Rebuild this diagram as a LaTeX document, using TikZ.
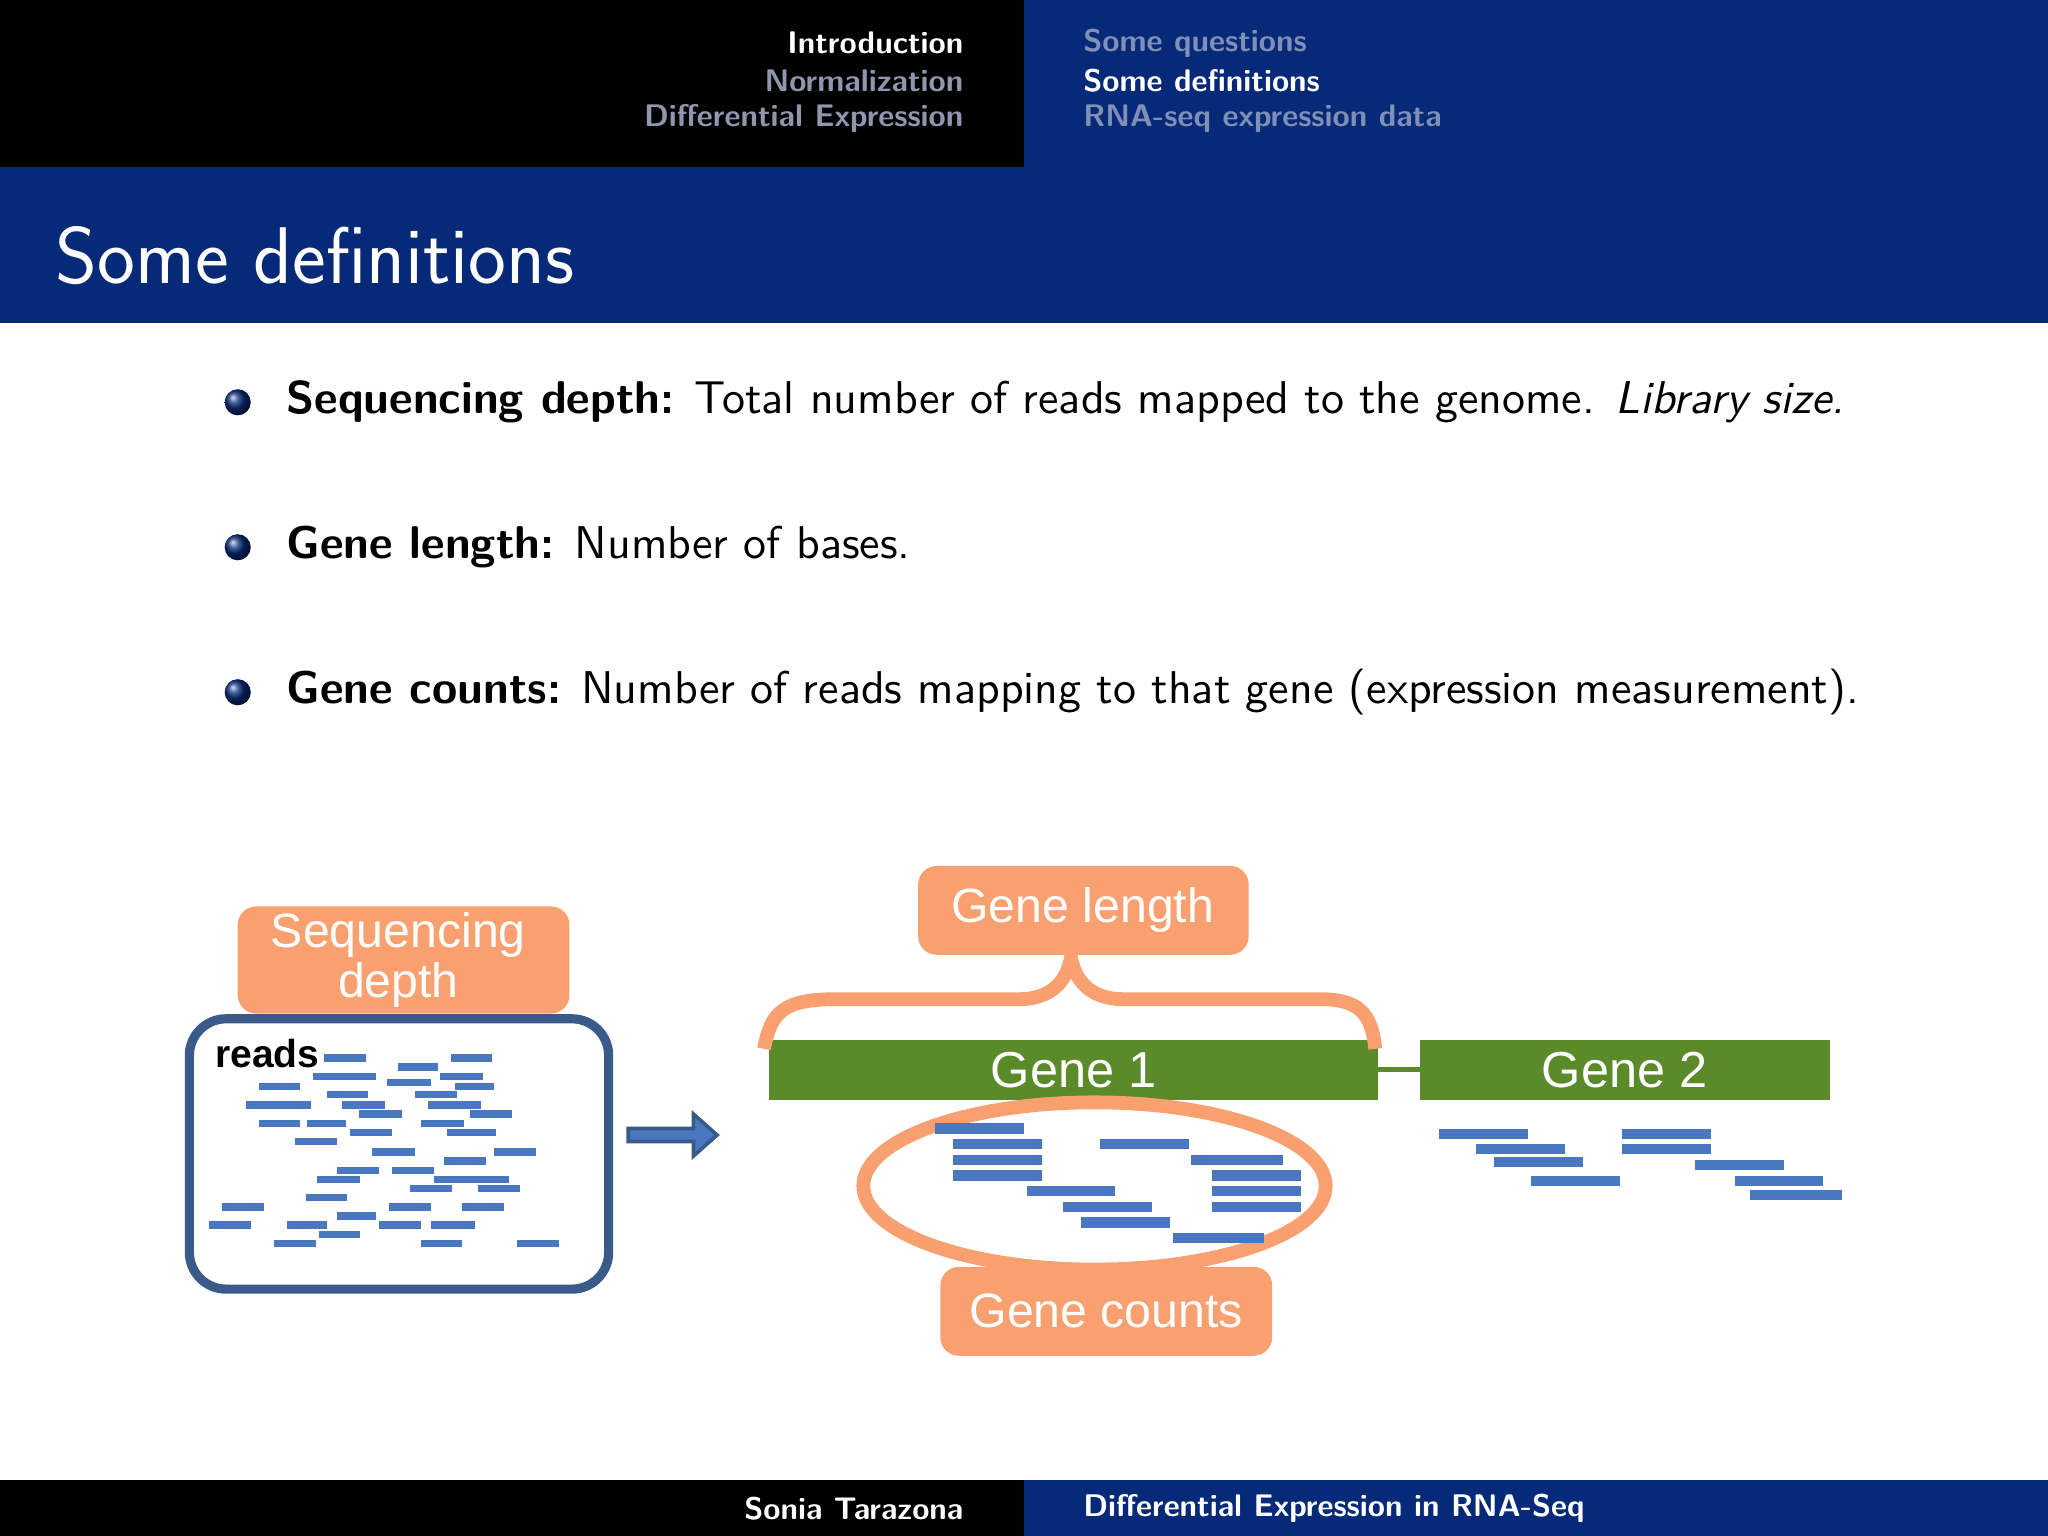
\documentclass[tikz,border=0pt]{standalone}
\usepackage{fontspec}
\newfontfamily\arial{Liberation Sans}
\definecolor{bblue}{HTML}{062A78}
\definecolor{fgray}{HTML}{8E97AE}
\definecolor{lgray}{HTML}{7F8FB8}
\definecolor{orng}{HTML}{F9A070}
\definecolor{gre}{HTML}{5B8A2A}
\definecolor{rd}{HTML}{4A78C0}
\definecolor{bx}{HTML}{3A5A8A}
\tikzset{
 olab/.style={font=\arial\fontsize{10.5}{11}\selectfont,text=white,align=center},
 rdl/.style={rd,line width=1.6pt},
}
\begin{document}
\begin{tikzpicture}[x=0.01cm,y=-0.01cm,font=\sffamily]
\useasboundingbox (0,0) rectangle (1568,1176);
\fill[black] (0,0) rectangle (784,128);
\fill[bblue] (784,0) rectangle (1568,128);
\fill[bblue] (0,128) rectangle (1568,247);
\fill[black] (0,1133) rectangle (784,1176);
\fill[bblue] (784,1133) rectangle (1568,1176);
\begin{scope}[font=\sffamily\bfseries\fontsize{6.8}{6.8}\selectfont]
\node[anchor=east,white] (h1) at (750,33) {Introduction};
\node[anchor=east,fgray] (h2) at (750,62) {Normalization};
\node[anchor=east,fgray] (h3) at (750,91) {Differential Expression};
\node[anchor=west,lgray] (h4) at (817,33) {Some questions};
\node[anchor=west,white] (h5) at (817,62) {Some definitions};
\node[anchor=west,lgray] (h6) at (817,91) {RNA-seq expression data};
\node[anchor=east,white] (f1) at (750,1155) {Sonia Tarazona};
\node[anchor=west,white] (f2) at (817,1155) {Differential Expression in RNA-Seq};
\end{scope}
\node[anchor=west,white,font=\sffamily\fontsize{17.5}{17.5}\selectfont] (title) at (30,196) {Some definitions};
\begin{scope}[font=\sffamily\fontsize{10}{10}\selectfont]
\foreach \y in {308,419,530}{\shade[ball color=bblue] (182,\y) circle (10);}
\node[anchor=west] (b1) at (207,308) {\textbf{Sequencing depth:} Total number of reads mapped to the genome. \textit{Library size.}};
\node[anchor=west] (b2) at (207,419) {\textbf{Gene length:} Number of bases.};
\node[anchor=west] (b3) at (207,530) {\textbf{Gene counts:} Number of reads mapping to that gene (expression measurement).};
\end{scope}
% reads box
\draw[bx,line width=2pt,rounded corners=8pt] (145,780) rectangle (466,987);
\node[anchor=west,font=\arial\bfseries\fontsize{8.5}{8.5}\selectfont,inner sep=0pt] (rl) at (164,807) {reads};
\foreach \a/\b/\y in {248/280/810,305/335/817,345/377/810,240/288/824,296/330/829,337/370/824,
 198/230/832,250/282/838,318/350/838,348/378/832,188/238/846,262/295/846,328/368/846,
 198/230/860,235/265/860,275/308/853,322/355/860,360/392/853,226/258/874,268/300/867,342/380/867,
 285/318/882,340/372/889,378/410/882,258/290/896,300/332/896,355/390/903,243/276/903,
 314/346/910,332/365/903,366/398/910,234/266/917,298/330/924,354/386/924,170/202/924,
 220/250/938,258/288/931,290/322/938,330/364/938,160/192/938,210/242/952,244/276/945,322/354/952,396/428/952}
 {\draw[rdl] (\a,\y) -- (\b,\y);}
% arrow
\draw[bx,fill=rd,line width=0.8pt] (481,864) -- (531,864) -- (531,853) -- (549,869) -- (531,885) -- (531,874) -- (481,874) -- cycle;
% genes
\fill[gre] (589,796) rectangle (1055,842);
\node[font=\arial\fontsize{11}{11}\selectfont,white] (g1t) at (822,819) {Gene 1};
\fill[gre] (1087,796) rectangle (1401,842);
\node[font=\arial\fontsize{11}{11}\selectfont,white] (g2t) at (1244,819) {Gene 2};
\draw[gre,line width=1pt] (1055,819) -- (1087,819);
% brace
\draw[orng,line width=3pt] (585,803) .. controls (590,775) and (600,765) .. (640,765) -- (780,765) .. controls (810,765) and (818,745) .. (820,733)
 .. controls (822,745) and (830,765) .. (860,765) -- (1010,765) .. controls (1040,765) and (1050,775) .. (1053,803);
\fill[orng,rounded corners=4pt] (703,663) rectangle (956,731);
\node[olab] (gl) at (829,697) {Gene length};
\fill[orng,rounded corners=4pt] (182,694) rectangle (436,776);
\node[olab] (sd) at (305,735) {Sequencing\\depth};
\draw[orng,line width=3pt] (838,908) ellipse (177 and 64);
\fill[orng,rounded corners=4pt] (720,970) rectangle (974,1038);
\node[olab] (gc) at (847,1004) {Gene counts};
\foreach \a/\b/\y in {716/784/864,730/798/876,730/798/888,730/798/900,842/910/876,912/982/888,
 928/996/900,928/996/912,928/996/924,786/854/912,814/882/924,828/896/936,898/968/948,
 1102/1170/868,1130/1198/880,1144/1212/890,1172/1240/904,1242/1310/868,1242/1310/880,1298/1366/892,1328/1396/904,1340/1410/915}
 {\draw[rdl,line width=2.2pt] (\a,\y) -- (\b,\y);}
\end{tikzpicture}
\end{document}
